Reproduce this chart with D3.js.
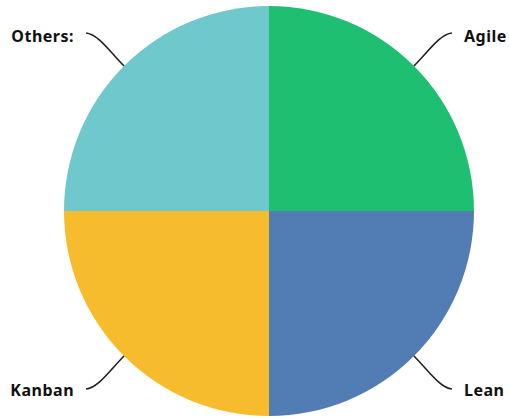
<!DOCTYPE html>
<html><head><meta charset="utf-8">
<script src="https://cdn.jsdelivr.net/npm/d3@7"></script>
<style>html,body{margin:0;padding:0;background:#fff;}</style>
</head><body>
<svg id="c" width="509" height="419"></svg>
<script>
const categories = ["Agile", "Lean", "Kanban", "Others:"];
const values = [25, 25, 25, 25];
const colors = ["#1fbf72", "#517cb4", "#f6bc2e", "#6fc8cb"];

const svg = d3.select("#c");
const cx = 269, cy = 211, r = 205;
const g = svg.append("g").attr("transform", `translate(${cx},${cy})`);
const data = categories.map((c, i) => ({ name: c, value: values[i], color: colors[i] }));
const pie = d3.pie().value(d => d.value).sort(null);
const arc = d3.arc().innerRadius(0).outerRadius(r);
const arcs = pie(data);

g.selectAll("path.slice").data(arcs).join("path")
  .attr("class", "slice")
  .attr("d", arc)
  .attr("fill", d => d.data.color);

arcs.forEach(a => {
  const mid = (a.startAngle + a.endAngle) / 2;
  const sx = Math.sin(mid) >= 0 ? 1 : -1;
  const sy = -Math.cos(mid) >= 0 ? 1 : -1;
  const x0 = Math.sin(mid) * r, y0 = -Math.cos(mid) * r;
  const x3 = x0 + sx * 38, y3 = y0 + sy * 33;
  const x1 = x0 + sx * 14, y1 = y0 + sy * 14;
  const x2 = x3 - sx * 12, y2 = y3 - sy * 1;
  g.append("path")
    .attr("d", `M${x0},${y0} C${x1},${y1} ${x2},${y2} ${x3},${y3}`)
    .attr("fill", "none").attr("stroke", "#222").attr("stroke-width", 1.6);
  g.append("text")
    .attr("x", x3 + sx * 12)
    .attr("y", y3 + (sy < 0 ? 9 : 7))
    .attr("text-anchor", sx > 0 ? "start" : "end")
    .attr("font-family", "'Noto Sans', sans-serif")
    .attr("font-weight", "bold")
    .attr("font-size", 16)
    .attr("letter-spacing", 0.5)
    .attr("fill", "#111")
    .text(a.data.name);
});
</script>
</body></html>
